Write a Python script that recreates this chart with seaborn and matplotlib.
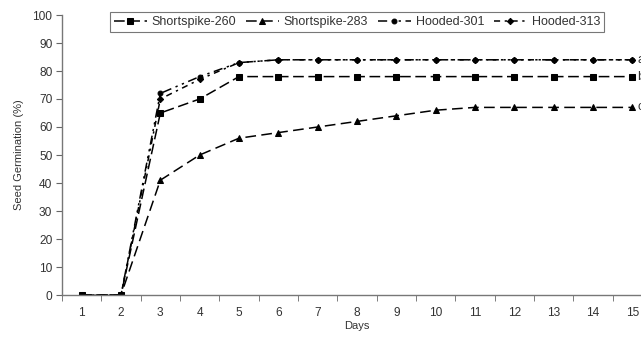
import matplotlib
matplotlib.use("Agg")
import matplotlib.pyplot as plt
import seaborn as sns
import pandas as pd

days = list(range(1, 16))
shortspike_260 = [0, 0, 65, 70, 78, 78, 78, 78, 78, 78, 78, 78, 78, 78, 78]
shortspike_283 = [0, 0, 41, 50, 56, 58, 60, 62, 64, 66, 67, 67, 67, 67, 67]
hooded_301 = [0, 0, 72, 78, 83, 84, 84, 84, 84, 84, 84, 84, 84, 84, 84]
hooded_313 = [0, 0, 70, 77, 83, 84, 84, 84, 84, 84, 84, 84, 84, 84, 84]
series_names = ["Shortspike-260", "Shortspike-283", "Hooded-301", "Hooded-313"]
end_letters = ["b", "c", "a", "a"]
y_ticks = list(range(0, 101, 10))

sns.set_style("white")
plt.rcParams["font.family"] = ["Liberation Sans", "DejaVu Sans"]
txt = "#333333"

fig = plt.figure(figsize=(6.41, 3.39), dpi=100)
W, H = 641, 339
ax = fig.add_axes([62 / W, 44 / H, (652 - 62) / W, (295 - 15) / H])

all_vals = [shortspike_260, shortspike_283, hooded_301, hooded_313]
styles = [
    dict(marker="s", ms=4.5, dashes=(7, 3)),
    dict(marker="^", ms=5, dashes=(7, 3.5)),
    dict(marker="o", ms=3.5, dashes=(6, 3, 1.5, 3, 1.5, 3)),
    dict(marker="D", ms=3.2, dashes=(4, 3, 1.5, 3)),
]
handles = []
for name, vals, st in zip(series_names, all_vals, styles):
    df = pd.DataFrame({"Days": days, "v": vals})
    n0 = len(ax.lines)
    sns.lineplot(data=df, x="Days", y="v", ax=ax, color="black", lw=1.1,
                 marker=st["marker"], markersize=st["ms"], markeredgecolor="black",
                 label=name, legend=False)
    line = ax.lines[n0]
    line.set_dashes(st["dashes"])
    handles.append(line)

for vals, letter in zip(all_vals[:3], end_letters[:3]):
    ax.text(15.13, vals[-1], letter, fontsize=9, color=txt, va="center", ha="left",
            clip_on=False)

ax.set_xlim(0.5, 15.5)
ax.set_ylim(0, 100)
ax.set_yticks(y_ticks)
ax.set_xticks(days)
ax.set_xticks([d + 0.5 for d in [0] + days], minor=True)
ax.tick_params(axis="x", which="major", length=0, labelsize=8.6, labelcolor=txt, pad=9)
ax.tick_params(axis="x", which="minor", length=4, direction="out", color="#666666", bottom=True)
ax.tick_params(axis="y", length=4, direction="out", color="#666666", labelsize=8.6,
               labelcolor=txt, left=True, pad=3)
for s in ["top", "right"]:
    ax.spines[s].set_visible(False)
for s in ["left", "bottom"]:
    ax.spines[s].set_color("#777777")
    ax.spines[s].set_linewidth(1)
ax.set_xlabel("Days", fontsize=8, color=txt, labelpad=1)
ax.set_ylabel("Seed Germination (%)", fontsize=8, color=txt, labelpad=6)

leg = fig.legend(handles=handles, labels=series_names, loc="center",
                 bbox_to_anchor=(357 / W, 1 - 22 / H), ncol=4, frameon=True,
                 fancybox=False, edgecolor="#555555", fontsize=9, handlelength=2.6,
                 columnspacing=0.8, handletextpad=0.4, borderpad=0.3)
for t in leg.get_texts():
    t.set_color(txt)
leg.get_frame().set_linewidth(0.8)

fig.savefig("out.png", dpi=100)
